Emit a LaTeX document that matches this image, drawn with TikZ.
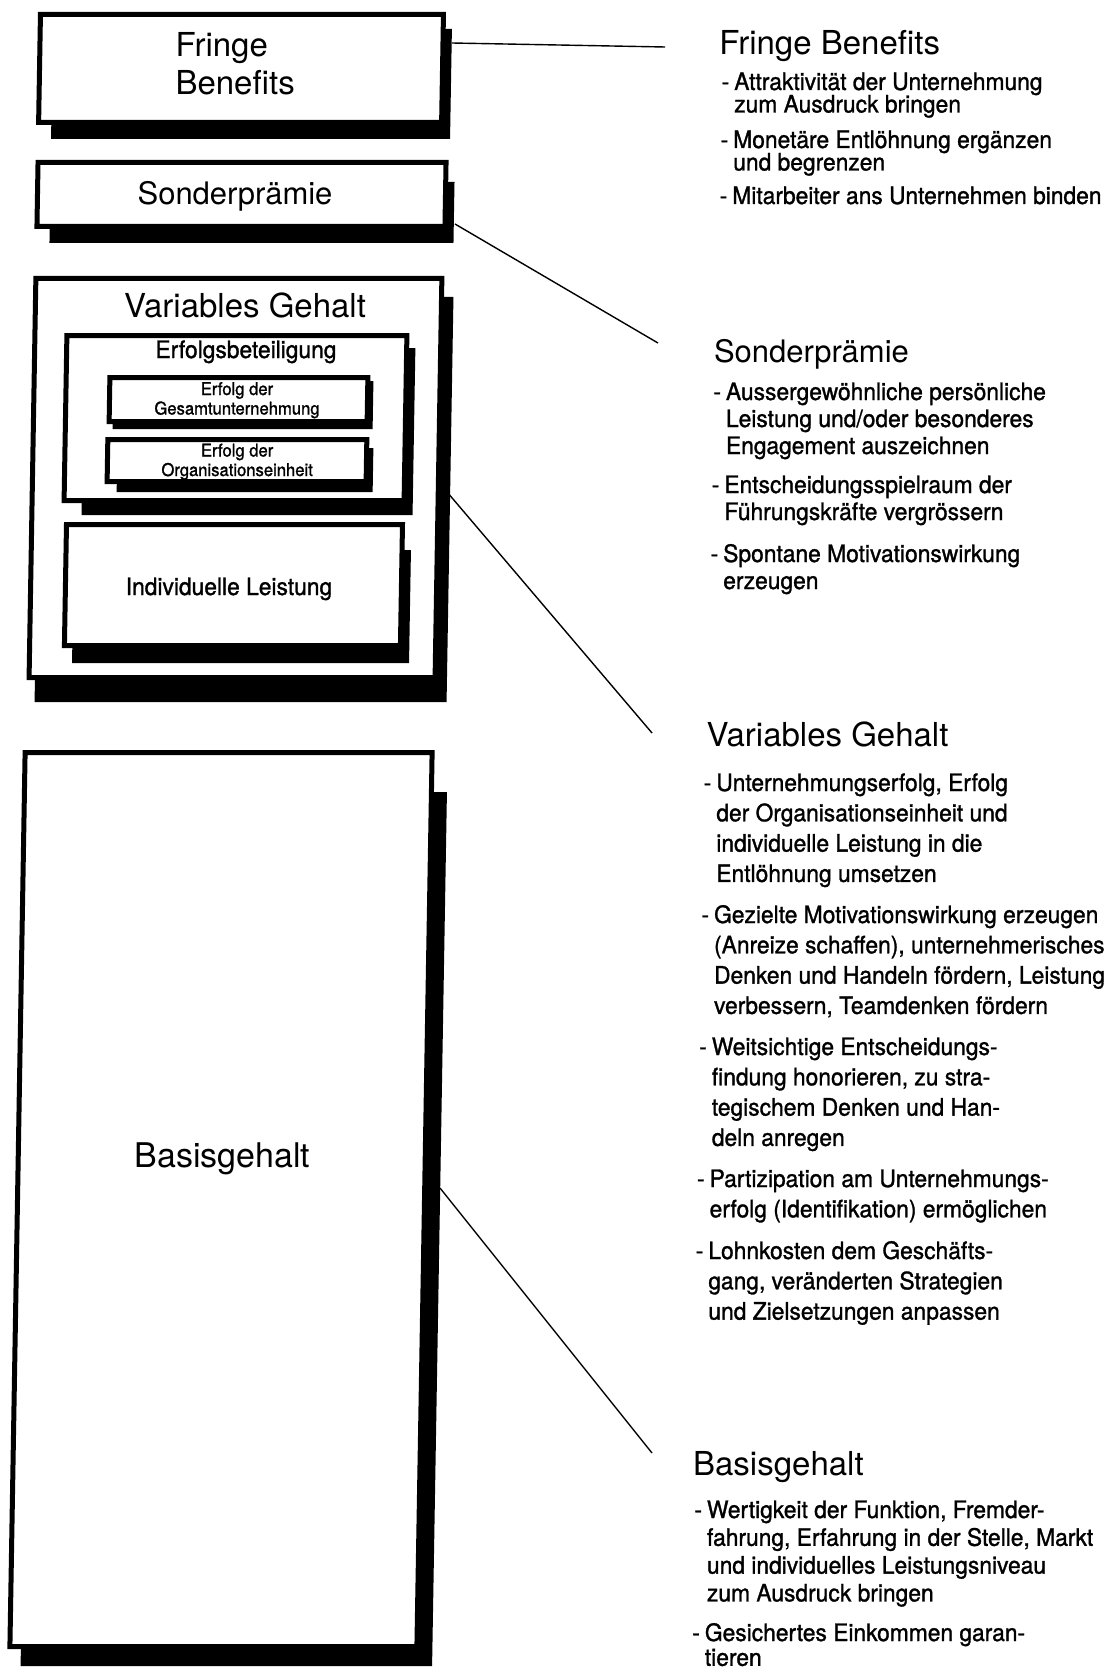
\documentclass[tikz,border=0pt]{standalone}
\usepackage{fontspec}
\setmainfont{TeX Gyre Heros}
\newfontfamily\bodyfont[FakeStretch=0.95,FakeBold=1.2]{TeX Gyre Heros}
% bullet lines: first line with a dash, following lines indented to the text
\newcommand\bfirst[1]{\hbox{-\hspace{5pt}#1}}
\newcommand\bnext[1]{\hbox{\hphantom{-}\hspace{5pt}#1}}
\newcommand\midline[1]{\hbox to 0pt{\hss#1\hss}}
\newcommand\fixedlead{\lineskiplimit=-100pt\lineskip=0pt}
\tikzset{
  frame/.style={draw=black, line width=5pt, fill=white, inner sep=0pt, transform shape},
  shade/.style={fill=black},
  link/.style={draw=black, line width=1.4pt},
  head/.style={anchor=base west, inner sep=0pt, font=\fontsize{33}{38}\selectfont},
  lbl/.style={anchor=base, inner sep=0pt},
  bullet/.style={anchor=base west, inner sep=0pt},
  fbtext/.style={font={\bodyfont\fontsize{24}{22.5}\selectfont\fixedlead}},
  sptext/.style={font={\bodyfont\fontsize{24}{27}\selectfont\fixedlead}},
  vgtext/.style={font={\bodyfont\fontsize{24}{30.3}\selectfont\fixedlead}},
  bgtext/.style={font={\bodyfont\fontsize{24}{27.8}\selectfont\fixedlead}},
  smalltext/.style={font={\bodyfont\fontsize{17.5}{19.5}\selectfont\fixedlead}},
}
\begin{document}
\begin{tikzpicture}[x=1pt,y=-1pt]
\useasboundingbox (0,0) rectangle (1115,1669);
\fill[white] (0,0) rectangle (1115,1669);
\clip (0,0) rectangle (1115,1669);
\begin{scope}[xslant=0.017]
  % ---- left column: stacked salary components ----
  \fill[shade] (53.4,29) rectangle (452.4,139);
  \node[frame, minimum width=403pt, minimum height=108pt] (fb) at (242.2,68.5) {};
  \node[anchor=base west, inner sep=0pt, font={\fontsize{33}{38}\selectfont}] (fbL) at (176.3,57)
    {\vtop{\hbox{Fringe}\hbox{Benefits}}};

  \fill[shade] (53.6,182) rectangle (457.6,243);
  \node[frame, minimum width=408pt, minimum height=64pt] (sp) at (244.8,194.5) {};
  \node[lbl, font=\fontsize{31}{36}\selectfont] (spL) at (238.5,205) {Sonderprämie};

  \fill[shade] (46.5,297) rectangle (458.5,702);
  \node[frame, minimum width=406pt, minimum height=399pt] (vg) at (243.6,478) {};
  \node[lbl, font=\fontsize{33}{38}\selectfont] (vgL) at (250.4,317) {Variables Gehalt};

  \fill[shade] (90.3,348) rectangle (421.3,515);
  \node[frame, minimum width=340pt, minimum height=165pt] (eb) at (242.6,418) {};
  \node[lbl, font={\bodyfont\fontsize{24}{28}\selectfont}] (ebL) at (252.1,358) {Erfolgsbeteiligung};

  \fill[shade] (119.9,381) rectangle (379.9,429);
  \node[frame, minimum width=258pt, minimum height=44pt] (eg) at (245.3,399.5) {};
  \node[lbl, smalltext] (egL) at (243.7,395)
    {\vtop{\midline{Erfolg der}\midline{Gesamtunternehmung}}};

  \fill[shade] (125,448) rectangle (381,492);
  \node[frame, minimum width=259pt, minimum height=42pt] (eo) at (244.8,460.5) {};
  \node[lbl, smalltext] (eoL) at (244.9,456.5)
    {\vtop{\midline{Erfolg der}\midline{Organisationseinheit}}};

  \fill[shade] (83.3,550) rectangle (420.3,663);
  \node[frame, minimum width=336pt, minimum height=121pt] (il) at (243.4,585) {};
  \node[lbl, font={\bodyfont\fontsize{24}{28}\selectfont}] (ilL) at (239.1,595) {Individuelle Leistung};

  \fill[shade] (48.9,792) rectangle (460.4,1666);
  \node[frame, minimum width=407pt, minimum height=894pt] (bg) at (241.4,1199.5) {};
  \node[lbl, font=\fontsize{34}{38}\selectfont] (bgL) at (242.3,1167) {Basisgehalt};

  % ---- right column: explanations ----
  \node[head] (fbH) at (720,55) {Fringe Benefits};
  \node[bullet, fbtext] (fb1) at (723,90)
    {\vtop{\bfirst{Attraktivität der Unternehmung}\bnext{zum Ausdruck bringen}}};
  \node[bullet, fbtext] (fb2) at (723,148)
    {\vtop{\bfirst{Monetäre Entlöhnung ergänzen}\bnext{und begrenzen}}};
  \node[bullet, fbtext] (fb3) at (723,204)
    {\vtop{\bfirst{Mitarbeiter ans Unternehmen binden}}};

  \node[head, font=\fontsize{31}{36}\selectfont] (spH) at (720,362) {Sonderprämie};
  \node[bullet, sptext] (sp1) at (720,400)
    {\vtop{\bfirst{Aussergewöhnliche persönliche}\bnext{Leistung und/oder besonderes}\bnext{Engagement auszeichnen}}};
  \node[bullet, sptext] (sp2) at (720,493)
    {\vtop{\bfirst{Entscheidungsspielraum der}\bnext{Führungskräfte vergrössern}}};
  \node[bullet, sptext] (sp3) at (720,562)
    {\vtop{\bfirst{Spontane Motivationswirkung}\bnext{erzeugen}}};

  \node[head] (vgH) at (719,746) {Variables Gehalt};
  \node[bullet, vgtext] (vg1) at (717,791)
    {\vtop{\bfirst{Unternehmungserfolg, Erfolg}\bnext{der Organisationseinheit und}\bnext{individuelle Leistung in die}\bnext{Entlöhnung umsetzen}}};
  \node[bullet, vgtext] (vg2) at (717,923)
    {\vtop{\bfirst{Gezielte Motivationswirkung erzeugen}\bnext{(Anreize schaffen), unternehmerisches}\bnext{Denken und Handeln fördern, Leistung}\bnext{verbessern, Teamdenken fördern}}};
  \node[bullet, vgtext] (vg3) at (717,1055)
    {\vtop{\bfirst{Weitsichtige Entscheidungs-}\bnext{findung honorieren, zu stra-}\bnext{tegischem Denken und Han-}\bnext{deln anregen}}};
  \node[bullet, vgtext] (vg4) at (717,1187)
    {\vtop{\bfirst{Partizipation am Unternehmungs-}\bnext{erfolg (Identifikation) ermöglichen}}};
  \node[bullet, vgtext] (vg5) at (717,1259)
    {\vtop{\bfirst{Lohnkosten dem Geschäfts-}\bnext{gang, veränderten Strategien}\bnext{und Zielsetzungen anpassen}}};

  \node[head] (bgH) at (718,1475) {Basisgehalt};
  \node[bullet, bgtext] (bg1) at (720,1518)
    {\vtop{\bfirst{Wertigkeit der Funktion, Fremder-}\bnext{fahrung, Erfahrung in der Stelle, Markt}\bnext{und individuelles Leistungsniveau}\bnext{zum Ausdruck bringen}}};
  \node[bullet, bgtext] (bg2) at (720,1641)
    {\vtop{\bfirst{Gesichertes Einkommen garan-}\vskip-3pt\bnext{tieren}}};

  % ---- connectors from the boxes to their explanations ----
  \coordinate (fbA) at (452.7,43);   \coordinate (fbB) at (665.8,47);
  \coordinate (spA) at (458.8,224);  \coordinate (spB) at (663.8,343);
  \coordinate (vgA) at (455.4,492);  \coordinate (vgB) at (664.5,733);
  \coordinate (bgA) at (460.2,1188); \coordinate (bgB) at (676.7,1453);
  \draw[link] (fbA) -- (fbB);
  \draw[link] (spA) -- (spB);
  \draw[link] (vgA) -- (vgB);
  \draw[link] (bgA) -- (bgB);
\end{scope}
\end{tikzpicture}
\end{document}
